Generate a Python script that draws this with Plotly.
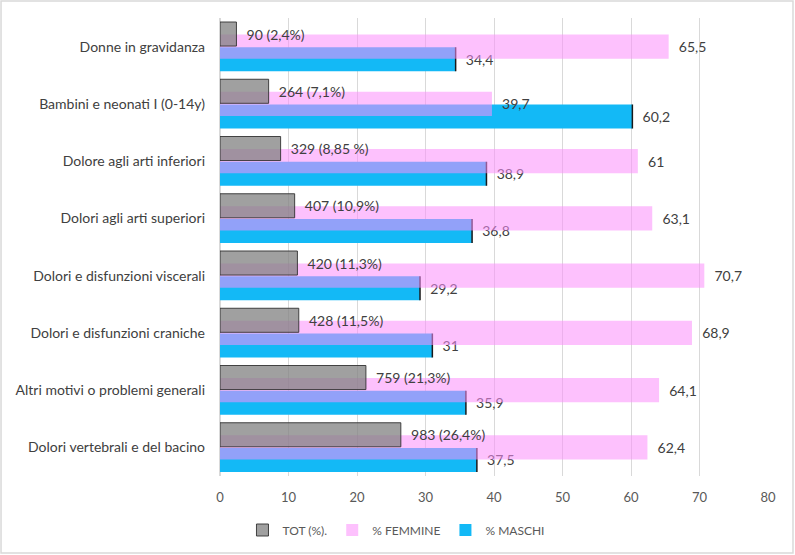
import plotly.graph_objects as go

categories = [
    "Donne in gravidanza",
    "Bambini e neonati I (0-14y)",
    "Dolore agli arti inferiori",
    "Dolori agli arti superiori",
    "Dolori e disfunzioni viscerali",
    "Dolori e disfunzioni craniche",
    "Altri motivi o problemi generali",
    "Dolori vertebrali e del bacino",
]
tot_pct = [2.4, 7.1, 8.85, 10.9, 11.3, 11.5, 21.3, 26.4]
tot_labels = ["90 (2,4%)", "264 (7,1%)", "329 (8,85 %)", "407 (10,9%)",
              "420 (11,3%)", "428 (11,5%)", "759 (21,3%)", "983 (26,4%)"]
femmine = [65.5, 39.7, 61, 63.1, 70.7, 68.9, 64.1, 62.4]
femmine_labels = ["65,5", "39,7", "61", "63,1", "70,7", "68,9", "64,1", "62,4"]
maschi = [34.4, 60.2, 38.9, 36.8, 29.2, 31, 35.9, 37.5]
maschi_labels = ["34,4", "60,2", "38,9", "36,8", "29,2", "31", "35,9", "37,5"]

FONT = "Lato, 'Open Sans', sans-serif"
TXT = "#404040"
W = 0.42
pad = "\u00a0\u00a0"

fig = go.Figure()
fig.add_trace(go.Bar(
    y=categories, x=maschi, orientation="h", name="% MASCHI",
    marker=dict(color="#13b9f6", line=dict(width=0)),
    width=W, offset=0.01,
    text=[pad + t for t in maschi_labels], textposition="outside",
    textfont=dict(color=TXT, size=14, family=FONT),
    error_x=dict(type="data", array=[0] * len(maschi), symmetric=True,
                 color="#1a1a1a", thickness=1.5, width=12),
    legendrank=3, cliponaxis=False,
))
fig.add_trace(go.Bar(
    y=categories, x=femmine, orientation="h", name="% FEMMINE",
    marker=dict(color="rgba(251,142,251,0.55)", line=dict(width=0)),
    width=W, offset=-0.21,
    text=[pad + t for t in femmine_labels], textposition="outside",
    textfont=dict(color=TXT, size=14, family=FONT),
    legendrank=2, cliponaxis=False,
))
fig.add_trace(go.Bar(
    y=categories, x=tot_pct, orientation="h", name="TOT (%).",
    marker=dict(color="rgba(128,128,128,0.75)", line=dict(width=1, color="rgba(50,50,50,0.9)")),
    width=W, offset=-0.43,
    text=[pad + t for t in tot_labels], textposition="outside",
    textfont=dict(color=TXT, size=14, family=FONT),
    legendrank=1, cliponaxis=False,
))

fig.update_layout(
    width=795, height=555,
    margin=dict(l=220, r=27, t=18, b=79, autoexpand=False),
    paper_bgcolor="white", plot_bgcolor="white",
    barmode="overlay",
    font=dict(family=FONT, color=TXT),
    showlegend=True,
    legend=dict(orientation="h", xref="container", yref="container",
                x=0.305, xanchor="left", y=(555 - 530) / 555, yanchor="middle",
                font=dict(size=12, color="#595959"), itemwidth=30,
                traceorder="normal", bgcolor="rgba(0,0,0,0)"),
    xaxis=dict(range=[0, 80], dtick=10, showgrid=True, gridcolor="#d9d9d9", gridwidth=1,
               zeroline=True, zerolinecolor="#d9d9d9", showline=False,
               tickfont=dict(size=13, color="#595959", family=FONT), ticks="",
               ticklabelstandoff=12, fixedrange=True),
    yaxis=dict(autorange="reversed", showgrid=False, showline=False, ticks="",
               tickfont=dict(size=14, color=TXT, family=FONT), ticklabelstandoff=14),
)
fig.add_shape(type="rect", xref="paper", yref="paper",
              x0=-0.3996, x1=1.0456, y0=-0.168, y1=1.037,
              line=dict(color="#d9d9d9", width=1.5), fillcolor="rgba(0,0,0,0)", layer="below")

fig.write_html("out.html")
